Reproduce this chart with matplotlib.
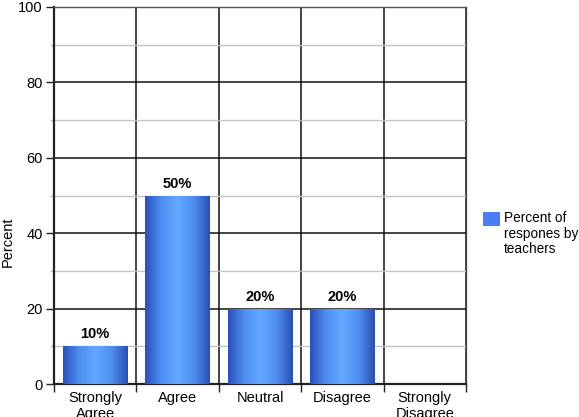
import numpy as np
import matplotlib
matplotlib.use("Agg")
import matplotlib.pyplot as plt
from matplotlib.colors import LinearSegmentedColormap
from matplotlib.patches import Rectangle
from matplotlib.ticker import MultipleLocator, FixedLocator

plt.rcParams['font.family'] = ['Liberation Sans', 'DejaVu Sans']

categories = ["Strongly\nAgree", "Agree", "Neutral", "Disagree", "Strongly\nDisagree"]
percents = [10, 50, 20, 20, 0]
series_name = "Percent of\nrespones by\nteachers"

W, H = 579, 417
fig = plt.figure(figsize=(W / 100, H / 100), dpi=100)
ax = fig.add_axes([54 / W, 33 / H, 412 / W, 377 / H])

x = np.arange(len(categories))
bars = ax.bar(x, percents, width=0.78, color="#3f72e0", zorder=3)

# horizontal gradient on each bar: dark edges, light centre
grad = LinearSegmentedColormap.from_list(
    "bar", ["#2a50b8", "#4f8ef2", "#62a8ff", "#4f8ef2", "#2a4fb0"])
g = np.linspace(0, 1, 256).reshape(1, -1)
for b, v in zip(bars, percents):
    if v <= 0:
        b.set_visible(False)
        continue
    im = ax.imshow(g, cmap=grad, aspect="auto", zorder=3.5,
                   extent=[b.get_x(), b.get_x() + b.get_width(), 0, b.get_height()])
    im.set_clip_path(b)
    ax.text(b.get_x() + b.get_width() / 2, b.get_height() + 1.3, f"{v}%",
            ha="center", va="bottom", fontsize=10.5, fontweight="bold", zorder=5)

ax.set_xlim(-0.5, len(categories) - 0.5)
ax.set_ylim(0, 100)

ax.set_xticks(x)
ax.set_xticklabels(categories, fontsize=10.5, linespacing=1.15)
ax.xaxis.set_minor_locator(FixedLocator(np.arange(len(categories) + 1) - 0.5))
ax.tick_params(axis="x", which="major", length=0, pad=5)
ax.tick_params(axis="x", which="minor", length=6, width=1, color="#222222")

ax.yaxis.set_major_locator(MultipleLocator(20))
ax.yaxis.set_minor_locator(MultipleLocator(10))
ax.tick_params(axis="y", which="major", length=6, width=1, color="#222222",
               labelsize=10.5, pad=2)
ax.tick_params(axis="y", which="minor", length=3, width=1, color="#bbbbbb")

ax.grid(True, axis="y", which="major", color="#111111", lw=1.1, zorder=1)
ax.grid(True, axis="y", which="minor", color="#c4c4c4", lw=1.0, zorder=1)
ax.grid(True, axis="x", which="minor", color="#111111", lw=1.1, zorder=1)
ax.set_axisbelow(True)

for s in ["left", "bottom"]:
    ax.spines[s].set_color("#222222")
    ax.spines[s].set_linewidth(1.6)
ax.spines["right"].set_color("#444444")
ax.spines["right"].set_linewidth(0.9)
ax.spines["top"].set_color("#555555")
ax.spines["top"].set_linewidth(1.0)

fig.text(8 / W, 1 - 242 / H, "Percent", rotation=90, ha="center", va="center",
         fontsize=10.5)

# legend drawn by hand so the swatch sits beside the first line
fig.add_artist(Rectangle((483 / W, 1 - 226 / H), 17 / W, 14 / H,
                         transform=fig.transFigure, facecolor="#4a7ff2",
                         edgecolor="none"))
fig.text(504 / W, 1 - 211 / H, series_name, ha="left", va="top",
         fontsize=9.8, linespacing=1.15)

fig.savefig("out.png", dpi=100)
